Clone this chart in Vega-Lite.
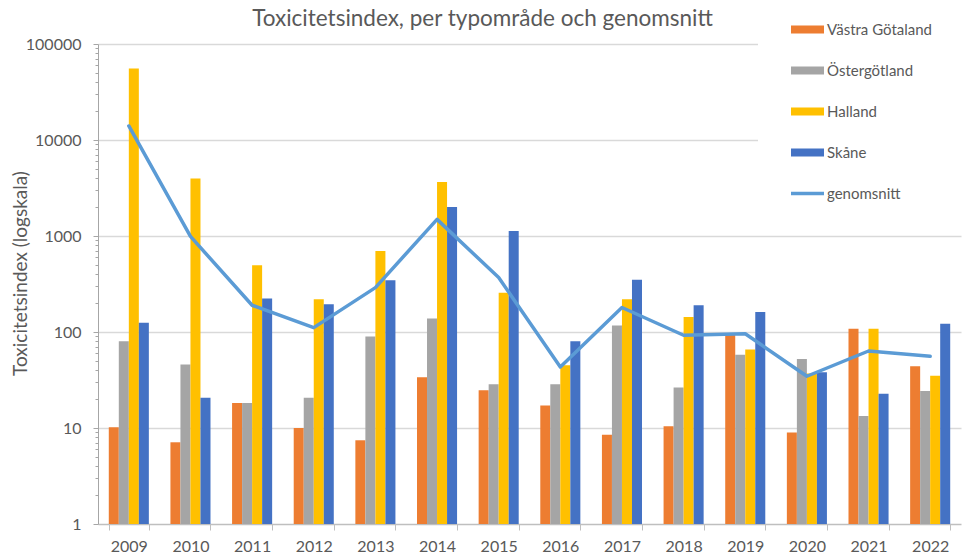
{
  "$schema": "https://vega.github.io/schema/vega-lite/v6.json",
  "width": 863,
  "height": 480,
  "autosize": {"type": "none"},
  "padding": {"left": 98, "top": 44, "right": 2, "bottom": 32},
  "background": "white",
  "config": {"font": "Lato", "view": {"stroke": null}},
  "title": {
    "text": "Toxicitetsindex, per typområde och genomsnitt",
    "fontSize": 22.5,
    "fontWeight": "normal",
    "color": "#595959",
    "anchor": "middle",
    "frame": "group",
    "dx": -47,
    "dy": 63,
    "offset": 13
  },
  "data": {"values": [
    {"year": "2009", "series": "Västra Götaland", "value": 10.2},
    {"year": "2009", "series": "Östergötland", "value": 80},
    {"year": "2009", "series": "Halland", "value": 55400},
    {"year": "2009", "series": "Skåne", "value": 125},
    {"year": "2009", "series": "genomsnitt", "value": 14000},
    {"year": "2010", "series": "Västra Götaland", "value": 7.1},
    {"year": "2010", "series": "Östergötland", "value": 45.8},
    {"year": "2010", "series": "Halland", "value": 3960},
    {"year": "2010", "series": "Skåne", "value": 20.7},
    {"year": "2010", "series": "genomsnitt", "value": 990},
    {"year": "2011", "series": "Västra Götaland", "value": 18.2},
    {"year": "2011", "series": "Östergötland", "value": 18.2},
    {"year": "2011", "series": "Halland", "value": 495},
    {"year": "2011", "series": "Skåne", "value": 224},
    {"year": "2011", "series": "genomsnitt", "value": 190},
    {"year": "2012", "series": "Västra Götaland", "value": 10.0},
    {"year": "2012", "series": "Östergötland", "value": 20.7},
    {"year": "2012", "series": "Halland", "value": 219},
    {"year": "2012", "series": "Skåne", "value": 194},
    {"year": "2012", "series": "genomsnitt", "value": 111},
    {"year": "2013", "series": "Västra Götaland", "value": 7.45},
    {"year": "2013", "series": "Östergötland", "value": 90},
    {"year": "2013", "series": "Halland", "value": 698},
    {"year": "2013", "series": "Skåne", "value": 345},
    {"year": "2013", "series": "genomsnitt", "value": 290},
    {"year": "2014", "series": "Västra Götaland", "value": 33.7},
    {"year": "2014", "series": "Östergötland", "value": 138},
    {"year": "2014", "series": "Halland", "value": 3650},
    {"year": "2014", "series": "Skåne", "value": 2000},
    {"year": "2014", "series": "genomsnitt", "value": 1490},
    {"year": "2015", "series": "Västra Götaland", "value": 24.7},
    {"year": "2015", "series": "Östergötland", "value": 28.5},
    {"year": "2015", "series": "Halland", "value": 257},
    {"year": "2015", "series": "Skåne", "value": 1128},
    {"year": "2015", "series": "genomsnitt", "value": 369},
    {"year": "2016", "series": "Västra Götaland", "value": 17.2},
    {"year": "2016", "series": "Östergötland", "value": 28.5},
    {"year": "2016", "series": "Halland", "value": 45},
    {"year": "2016", "series": "Skåne", "value": 80},
    {"year": "2016", "series": "genomsnitt", "value": 43.2},
    {"year": "2017", "series": "Västra Götaland", "value": 8.5},
    {"year": "2017", "series": "Östergötland", "value": 117},
    {"year": "2017", "series": "Halland", "value": 219},
    {"year": "2017", "series": "Skåne", "value": 350},
    {"year": "2017", "series": "genomsnitt", "value": 180},
    {"year": "2018", "series": "Västra Götaland", "value": 10.4},
    {"year": "2018", "series": "Östergötland", "value": 26.4},
    {"year": "2018", "series": "Halland", "value": 143},
    {"year": "2018", "series": "Skåne", "value": 190},
    {"year": "2018", "series": "genomsnitt", "value": 92.5},
    {"year": "2019", "series": "Västra Götaland", "value": 96},
    {"year": "2019", "series": "Östergötland", "value": 58},
    {"year": "2019", "series": "Halland", "value": 65.6},
    {"year": "2019", "series": "Skåne", "value": 162},
    {"year": "2019", "series": "genomsnitt", "value": 96},
    {"year": "2020", "series": "Västra Götaland", "value": 9.0},
    {"year": "2020", "series": "Östergötland", "value": 52.3},
    {"year": "2020", "series": "Halland", "value": 36.9},
    {"year": "2020", "series": "Skåne", "value": 38},
    {"year": "2020", "series": "genomsnitt", "value": 34.6},
    {"year": "2021", "series": "Västra Götaland", "value": 108},
    {"year": "2021", "series": "Östergötland", "value": 13.3},
    {"year": "2021", "series": "Halland", "value": 108},
    {"year": "2021", "series": "Skåne", "value": 22.8},
    {"year": "2021", "series": "genomsnitt", "value": 63.4},
    {"year": "2022", "series": "Västra Götaland", "value": 44},
    {"year": "2022", "series": "Östergötland", "value": 24.3},
    {"year": "2022", "series": "Halland", "value": 35.1},
    {"year": "2022", "series": "Skåne", "value": 122},
    {"year": "2022", "series": "genomsnitt", "value": 55.8}
  ]},
  "encoding": {
    "x": {
      "field": "year",
      "type": "nominal",
      "scale": {"paddingInner": 0.35, "paddingOuter": 0.175},
      "axis": {
        "title": null,
        "labelAngle": 0,
        "labelFontSize": 16,
        "labelColor": "#595959",
        "labelPadding": 8,
        "tickBand": "extent",
        "tickSize": 6,
        "tickColor": "#BFBFBF",
        "domainColor": "#BFBFBF",
        "domainWidth": 1.5,
        "grid": false
      }
    },
    "y": {
      "field": "value",
      "type": "quantitative",
      "scale": {"type": "log", "domain": [1, 100000], "nice": false},
      "axis": {
        "title": "Toxicitetsindex (logskala)",
        "titleFontSize": 19,
        "titleFontWeight": "normal",
        "titleColor": "#595959",
        "titleX": -78,
        "titleY": 229,
        "titleAngle": -90,
        "titleAlign": "center",
        "titleBaseline": "middle",
        "values": [1,2,3,4,5,6,7,8,9,10,20,30,40,50,60,70,80,90,100,200,300,400,500,600,700,800,900,1000,2000,3000,4000,5000,6000,7000,8000,9000,10000,20000,30000,40000,50000,60000,70000,80000,90000,100000],
        "format": "d",
        "labelExpr": "(datum.value==1||datum.value==10||datum.value==100||datum.value==1000||datum.value==10000||datum.value==100000) ? datum.label : ''",
        "labelFontSize": 16,
        "labelColor": "#595959",
        "labelPadding": 12,
        "labelOverlap": false,
        "tickColor": "#A6A6A6",
        "tickSize": {"condition": {"test": "datum.value==1||datum.value==10||datum.value==100||datum.value==1000||datum.value==10000||datum.value==100000", "value": 5}, "value": 3},
        "domainColor": "#A6A6A6",
        "domainWidth": 1,
        "grid": true,
        "gridColor": "#D9D9D9",
        "gridWidth": 1.3,
        "gridOpacity": {"condition": {"test": "datum.value==10||datum.value==100||datum.value==1000||datum.value==10000||datum.value==100000", "value": 1}, "value": 0}
      }
    },
    "color": {
      "field": "series",
      "type": "nominal",
      "scale": {
        "domain": ["Västra Götaland", "Östergötland", "Halland", "Skåne", "genomsnitt"],
        "range": ["#ED7D31", "#A5A5A5", "#FFC000", "#4472C4", "#5B9BD5"]
      },
      "legend": {
        "title": null,
        "orient": "none",
        "legendX": 660,
        "legendY": -64,
        "padding": 33,
        "fillColor": "white",
        "labelFontSize": 15,
        "labelColor": "#595959",
        "labelOffset": 3,
        "rowPadding": 16,
        "symbolSize": 1089,
        "symbolType": "M-1,-0.24H1V0.24H-1Z",
        "symbolStrokeWidth": 0,
        "encode": {
          "symbols": {
            "update": {
              "shape": {"signal": "datum.value === 'genomsnitt' ? 'M-1,-0.1H1V0.1H-1Z' : 'M-1,-0.24H1V0.24H-1Z'"},
              "fill": {"scale": "color", "field": "value"},
              "fillOpacity": {"value": 1},
              "strokeWidth": {"value": 0}
            }
          }
        }
      }
    }
  },
  "layer": [
    {
      "transform": [{"filter": "datum.series !== 'genomsnitt'"}],
      "mark": {"type": "bar"},
      "encoding": {
        "y2": {"datum": 1},
        "xOffset": {"field": "series", "type": "nominal", "sort": ["Västra Götaland", "Östergötland", "Halland", "Skåne"], "scale": {"paddingInner": 0, "paddingOuter": 0}}
      }
    },
    {
      "transform": [{"filter": "datum.series === 'genomsnitt'"}],
      "mark": {"type": "line", "strokeWidth": 3.5, "strokeJoin": "round", "strokeCap": "round"},
      "encoding": {}
    }
  ]
}
